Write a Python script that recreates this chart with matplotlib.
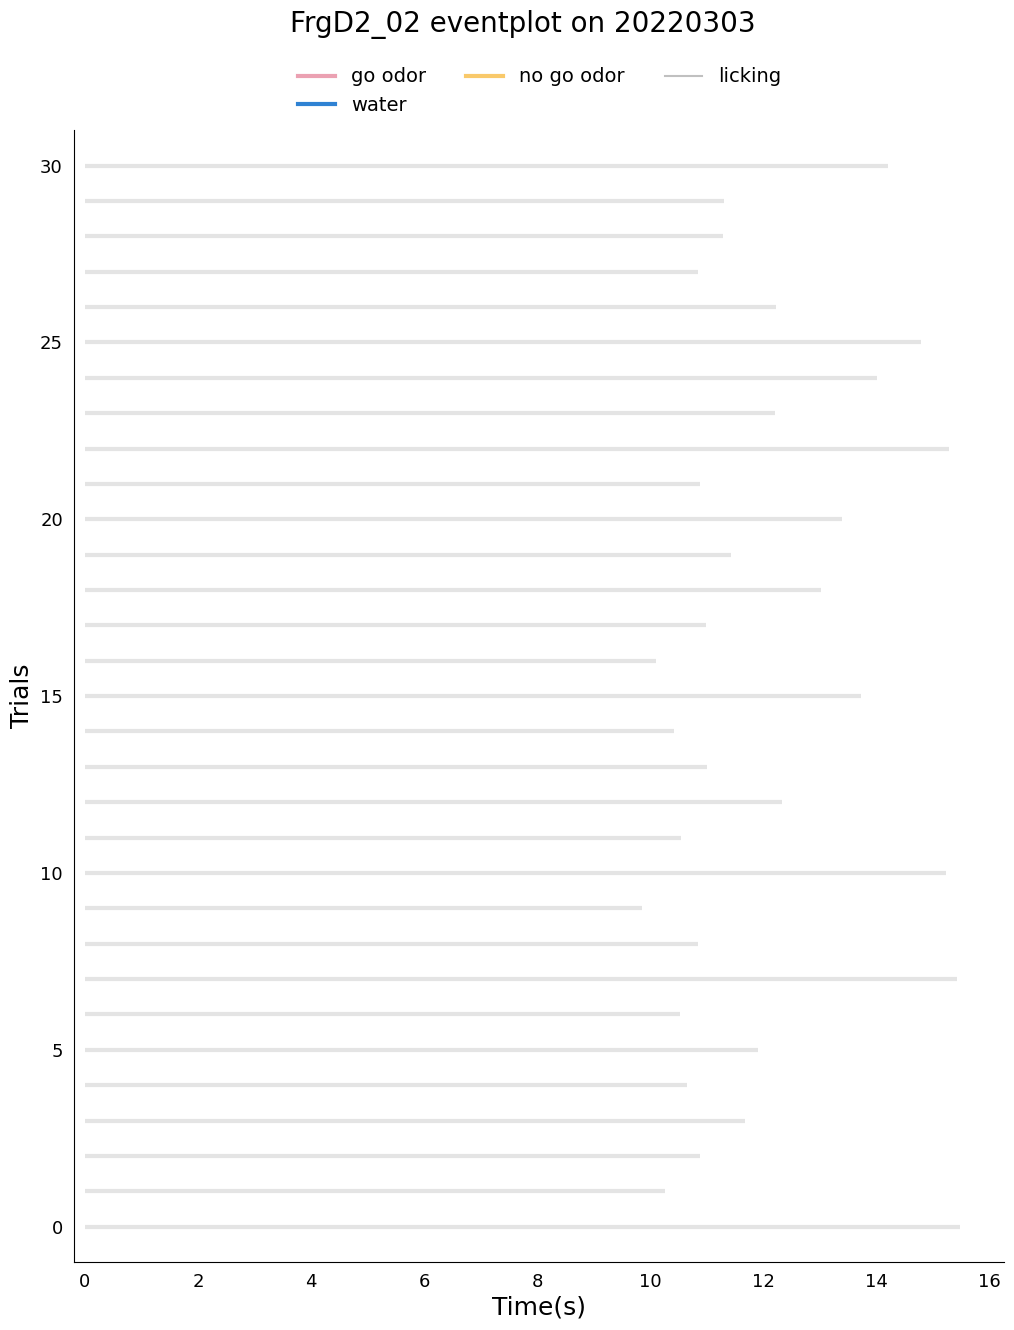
import matplotlib
matplotlib.use("Agg")
import matplotlib.pyplot as plt
from matplotlib.lines import Line2D

trials = list(range(31))
lick_end = [15.47, 10.25, 10.87, 11.67, 10.64, 11.90, 10.52, 15.43, 10.84, 9.85,
            15.22, 10.54, 12.32, 11.01, 10.41, 13.72, 10.10, 10.98, 13.01, 11.42,
            13.38, 10.87, 15.28, 12.20, 14.00, 14.78, 12.22, 10.84, 11.28, 11.30,
            14.20]
lick_start = [0.0] * 31

legend_labels = ["go odor", "water", "no go odor", "licking"]
legend_colors = ["#eba1b2", "#2f82d3", "#f9c96a", "#c0c0c0"]
legend_widths = [3, 3, 3, 1.5]

fig = plt.figure(figsize=(10.14, 13.30), dpi=100)
ax = fig.add_axes([0.073, 0.0511, 0.917, 0.851])

ax.hlines(trials, lick_start, lick_end, color="#e4e4e4", linewidth=3)

ax.set_xlim(-0.19, 16.25)
ax.set_ylim(-1.0, 31.0)
ax.set_xticks([0, 2, 4, 6, 8, 10, 12, 14, 16])
ax.set_yticks([0, 5, 10, 15, 20, 25, 30])
ax.tick_params(length=0, labelsize=13, pad=8)
ax.spines["top"].set_visible(False)
ax.spines["right"].set_visible(False)
ax.set_xlabel("Time(s)", fontsize=18, labelpad=3)
ax.set_ylabel("Trials", fontsize=18, labelpad=4)

handles = [Line2D([0], [0], color=c, lw=w) for c, w in zip(legend_colors, legend_widths)]
fig.legend(handles, legend_labels, ncol=3, frameon=False, fontsize=14,
           loc="upper center", bbox_to_anchor=(0.532, 0.9625),
           columnspacing=2.06, handlelength=1.9, handletextpad=0.82, labelspacing=0.5)

fig.suptitle("FrgD2_02 eventplot on 20220303", fontsize=20, x=0.516, y=0.9925)

fig.savefig("out.png", dpi=100)
